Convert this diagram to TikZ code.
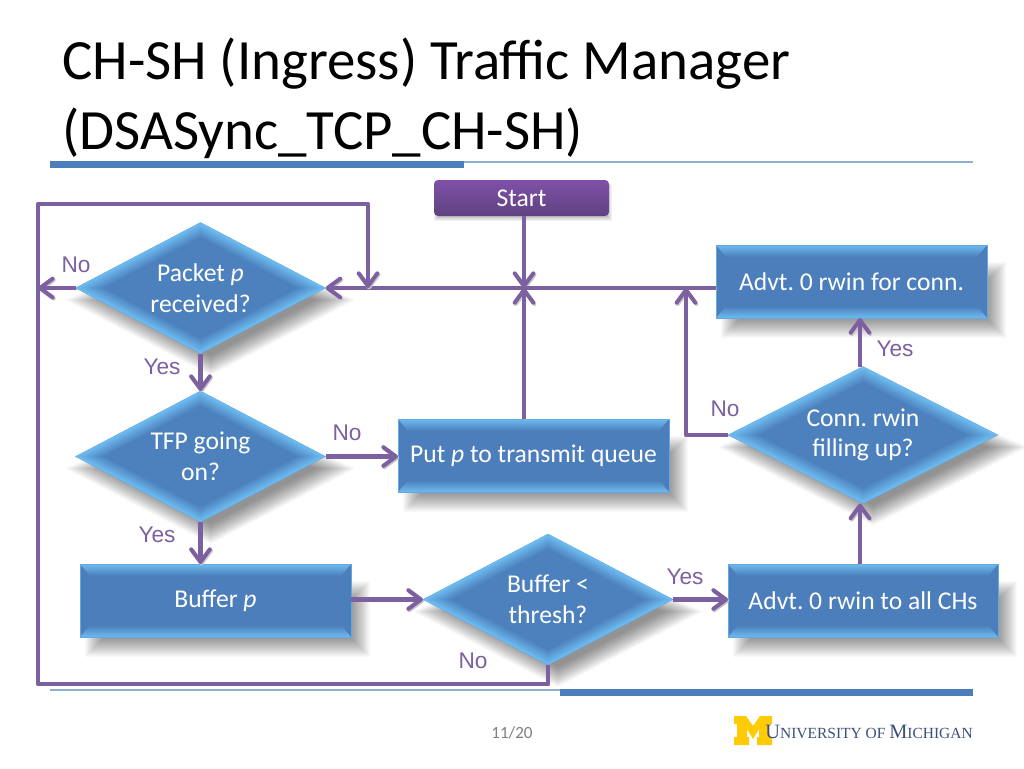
\documentclass[tikz,border=0pt]{standalone}
\usepackage{fontspec}
\setmainfont{Carlito}
\newfontfamily\labelfont{Liberation Sans}
\newfontfamily\logofont{Liberation Serif}
\usetikzlibrary{arrows.meta,calc,shapes.geometric,backgrounds}
\definecolor{boxblue}{HTML}{4C7EBB}
\definecolor{bevelblue}{HTML}{6DBBF0}
\definecolor{flowpurple}{HTML}{7D60A0}
\definecolor{starttop}{HTML}{8050A8}
\definecolor{startbot}{HTML}{5F4280}
\definecolor{rulethin}{HTML}{8FB0CC}
\definecolor{mblue}{HTML}{3E5078}
\definecolor{maize}{HTML}{FFCB05}
\tikzset{
  rectface/.style={path picture={
    \coordinate (nw) at (path picture bounding box.north west);
    \coordinate (ne) at (path picture bounding box.north east);
    \coordinate (sw) at (path picture bounding box.south west);
    \coordinate (se) at (path picture bounding box.south east);
    \fill[boxblue] (nw) rectangle (se);
    \shade[top color=bevelblue,bottom color=boxblue] (nw) -- (ne) -- ($(ne)+(-10,12)$) -- ($(nw)+(10,12)$) -- cycle;
    \shade[top color=boxblue,bottom color=bevelblue] (sw) -- (se) -- ($(se)+(-10,-12)$) -- ($(sw)+(10,-12)$) -- cycle;
  }},
  dmdface/.style={path picture={
    \foreach \k in {1,...,8}{
      \pgfmathsetmacro\f{\k*0.014}
      \pgfmathtruncatemacro\c{100-\k*12}
      \fill[bevelblue!\c!boxblue]
        ($(path picture bounding box.north)!\f!(path picture bounding box.south)$) --
        ($(path picture bounding box.east)!\f!(path picture bounding box.west)$) --
        ($(path picture bounding box.south)!\f!(path picture bounding box.north)$) --
        ($(path picture bounding box.west)!\f!(path picture bounding box.east)$) -- cycle;
    }
  }},
  stepbox/.style={rectangle,fill=boxblue,draw=bevelblue!70!boxblue,line width=0.3pt,rectface,
    minimum width=271*0.75pt,minimum height=73*0.75pt,inner sep=0pt,outer sep=0pt,
    text=white,font=\fontsize{19.2}{23}\selectfont\frenchspacing,align=center},
  decision/.style={diamond,aspect=1.9,fill=bevelblue,draw=bevelblue!70!boxblue,line width=0.3pt,dmdface,
    minimum width=250*0.75pt,minimum height=131*0.75pt,inner sep=0pt,outer sep=0pt,
    text=white,font=\fontsize{19.2}{23}\selectfont\frenchspacing,align=center},
  flow/.style={draw=flowpurple,line width=3.2pt,line join=round,
    preaction={draw=black!22,transform canvas={xshift=0.8pt,yshift=-1pt}}},
  flowarrow/.style={flow,-{Straight Barb[length=9.5pt,width=14pt,line width=3pt,round]}},
  answer/.style={text=flowpurple,font=\labelfont\fontsize{17}{20}\selectfont,inner sep=0pt},
  softshadow/.style={black,opacity=0.024},
}
\begin{document}
\begin{tikzpicture}[x=0.75pt,y=-0.75pt]
\useasboundingbox (0,0) rectangle (1024,768);
     %title:
\node (title) at (62,98) [anchor=west,align=left,inner sep=0pt,font=\fontsize{42.67}{52.5}\selectfont] {CH-SH (Ingress) Traffic Manager\\(DSASync\_TCP\_CH-SH)};
\draw[rulethin,line width=0.8pt] (50,162) -- (973,162);
\fill[boxblue] (50,161) rectangle (464,167.5);
\draw[rulethin,line width=0.8pt] (50,690) -- (973,690);
\fill[boxblue] (560,689) rectangle (973,695.5);

     %flow chart:
\node (start) at (521.5,198) [rectangle,rounded corners=3pt,top color=starttop,bottom color=startbot,minimum width=175*0.75pt,minimum height=36*0.75pt,inner sep=0pt,text=white,font=\fontsize{19.2}{23}\selectfont] {Start};
\node (packet) at (200.5,288) [decision] {Packet \textit{p}\\received?};
\node (tfp) at (200.5,456.5) [decision] {TFP going\\on?};
\node (bufferp) at (215.5,600.5) [stepbox] {Buffer \textit{p}};
\node (thresh) at (548,599.5) [decision] {Buffer <\\thresh?};
\node (putp) at (533.5,455.5) [stepbox] {Put \textit{p} to transmit queue};
\node (advall) at (863,600.5) [stepbox,minimum width=270*0.75pt] {Advt. 0 rwin to all CHs};
\node (filling) at (863,435) [decision,aspect=1.97,minimum width=270*0.75pt,minimum height=137*0.75pt] {Conn. rwin\\filling up?};
\node (advconn) at (851.5,281.5) [stepbox] {Advt. 0 rwin for conn.};

\begin{scope}[on background layer]
\fill[white] (0,0) rectangle (1024,768);
\foreach \n in {bufferp,putp,advall,advconn}{
  \foreach \k in {-9,-8,...,9}{
    \fill[softshadow] ($(\n.north west)+(14+\k,26+\k)$) rectangle ($(\n.south east)+(10-\k,11-\k)$);
  }
}
\foreach \n in {packet,tfp,thresh,filling}{
  \foreach \k in {-10,-9,...,10}{
    \fill[softshadow] ($(\n.north)+(10,24+\k)$) -- ($(\n.east)+(10-2*\k,12)$) -- ($(\n.south)+(10,12-\k)$) -- ($(\n.west)+(10+2*\k,12)$) -- cycle;
  }
}
\foreach \k in {-2,-1,...,2}{
  \fill[black,opacity=0.05] ($(start.north west)+(2+\k,6+\k)$) rectangle ($(start.south east)+(1-\k,3-\k)$);
}
\end{scope}

\coordinate (hub) at (524,288);
\coordinate (mainend) at (716,288);
\coordinate (rail) at (38,288);
\coordinate (railtop) at (38,204);
\coordinate (railbot) at (38,684);
\coordinate (looptop) at (368,204);
\coordinate (loopin) at (368,288);
\coordinate (upjoin) at (686,288);

\draw[flowarrow] (start.south -| hub) -- (hub);
\draw[flowarrow] (mainend) -- (packet.east);
\draw[flowarrow] (packet.west) -- (rail);
\draw[flowarrow] (thresh.south) |- (railbot) -- (railtop) -- (looptop) -- (loopin);
\draw[flowarrow] (packet.south) -- (tfp.north);
\draw[flowarrow] (tfp.east) -- (putp.west |- tfp.east);
\draw[flowarrow] (tfp.south) -- (tfp.south |- bufferp.north);
\draw[flowarrow] (bufferp.east |- thresh.west) -- (thresh.west);
\draw[flowarrow] (thresh.east) -- (advall.west |- thresh.east);
\draw[flowarrow] (advall.north -| 860,0) -- (filling.south -| 860,0);
\draw[flowarrow] (filling.north -| 860,0) -- (advconn.south -| 860,0);
\draw[flowarrow] (filling.west) -| (upjoin);
\draw[flowarrow] (putp.north -| hub) -- (hub);

\node (no1) at (76,265) [answer] {No};
\node (yes1) at (162,367) [answer] {Yes};
\node (no2) at (347,433) [answer] {No};
\node (yes2) at (157,535) [answer] {Yes};
\node (no3) at (473,661) [answer] {No};
\node (yes3) at (685,577) [answer] {Yes};
\node (no4) at (725,409) [answer] {No};
\node (yes4) at (895,349) [answer] {Yes};

     %footer:
\node (pageno) at (512,733) [text=black!50,font=\fontsize{12.8}{15}\selectfont,inner sep=0pt] {11/20};
\fill[maize] (734,716) -- (746,716) -- (753,726) -- (760,716) -- (772,716) -- (772,724) -- (769,724) -- (769,737) -- (772,737) -- (772,745) -- (757,745) -- (757,737) -- (759,737) -- (759,729) -- (753,739) -- (747,729) -- (747,737) -- (749,737) -- (749,745) -- (734,745) -- (734,737) -- (737,737) -- (737,724) -- (734,724) -- cycle;
\node (umich) at (973,732) [anchor=east,inner sep=0pt,text=mblue,font=\logofont] {\fontsize{15.3}{16}\selectfont U\fontsize{11.6}{16}\selectfont NIVERSITY OF \fontsize{15.3}{16}\selectfont M\fontsize{11.6}{16}\selectfont ICHIGAN};
\end{tikzpicture}
\end{document}
